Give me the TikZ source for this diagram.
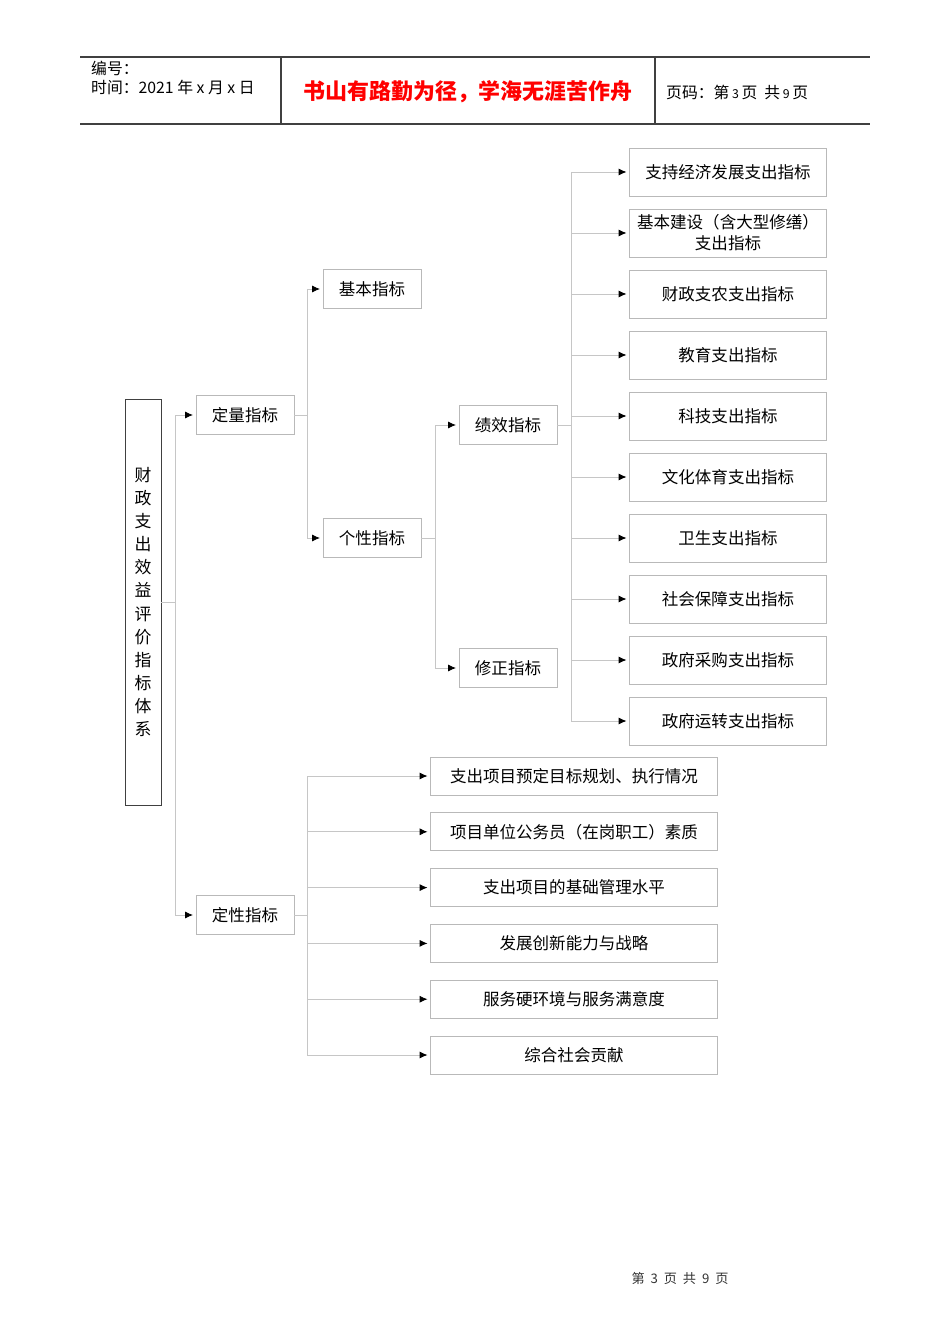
\documentclass[tikz,border=0pt]{standalone}
\usepackage{fontspec}
\setmainfont{Noto Sans CJK SC}
\usetikzlibrary{arrows.meta}

\tikzset{
  box/.style={draw=gray!55, inner sep=0pt, minimum width=1.96cm, minimum height=0.78cm,
    font=\fontsize{9.4}{12}\selectfont},
  widebox/.style={box, minimum width=3.94cm, minimum height=0.96cm, align=center},
  longbox/.style={box, minimum width=5.74cm, minimum height=0.76cm},
  link/.style={draw=gray!45, line width=0.5pt},
  arr/.style={link, -{Latex[color=black,length=4.5pt,width=4pt]}, shorten >=1.5pt},
  hdr/.style={draw=black!75, line width=0.6pt},
}

\begin{document}
\begin{tikzpicture}[x=0.02cm,y=-0.02cm]
\useasboundingbox (0,0) rectangle (950,1344);
% page header
\draw[hdr] (80,57) -- (870,57);
\draw[hdr] (80,124) -- (870,124);
\draw[hdr] (281,57) -- (281,124);
\draw[hdr] (655,57) -- (655,124);
\node[anchor=west, font=\fontsize{9}{10}\selectfont] (bh) at (85,68) {编号：};
\node[anchor=west, font=\fontsize{9}{10}\selectfont] (sj) at (85,87) {时间：2021 年 x 月 x 日};
\node[font=\fontsize{12.5}{14}\selectfont\bfseries, text=red] (motto) at (468,92) {书山有路勤为径，学海无涯苦作舟};
\node[anchor=west, font=\fontsize{9}{10}\selectfont] (ym) at (660,92) {页码：第\,{\scriptsize 3}\,页\ \ 共\,{\scriptsize 9}\,页};

% root
\node[draw=black!75, inner sep=0pt, minimum width=0.72cm, minimum height=8.12cm, align=center,
  font=\fontsize{9.6}{13.1}\selectfont] (root) at (143,602)
  {财\\政\\支\\出\\效\\益\\评\\价\\指\\标\\体\\系};

% second and third levels
\node[box] (dl) at (245,415) {定量指标};
\node[box] (dx) at (245,915) {定性指标};
\node[box] (jb) at (372,289) {基本指标};
\node[box] (gx) at (372,538) {个性指标};
\node[box] (jx) at (508,425) {绩效指标};
\node[box] (xz) at (508,668) {修正指标};

% spending indicators
\foreach \t [count=\i] in {支持经济发展支出指标,{基本建设（含大型修缮）\\支出指标},财政支农支出指标,
  教育支出指标,科技支出指标,文化体育支出指标,卫生支出指标,社会保障支出指标,
  政府采购支出指标,政府运转支出指标}
  \node[widebox] (zc\i) at (728,111+61*\i) {\t};

% qualitative indicators
\foreach \t [count=\i] in {支出项目预定目标规划、执行情况,项目单位公务员（在岗职工）素质,
  支出项目的基础管理水平,发展创新能力与战略,服务硬环境与服务满意度,综合社会贡献}
  \node[longbox] (dx\i) at (574,720.2+55.8*\i) {\t};

% connectors
\draw[link] (root.east) -- ++(14,0) coordinate (c0);
\draw[link] (c0 |- dl.west) -- (c0 |- dx.west);
\draw[arr] (c0 |- dl.west) -- (dl.west);
\draw[arr] (c0 |- dx.west) -- (dx.west);

\draw[link] (dl.east) -- ++(13,0) coordinate (c1);
\draw[link] (c1 |- jb.west) -- (c1 |- gx.west);
\draw[arr] (c1 |- jb.west) -- (jb.west);
\draw[arr] (c1 |- gx.west) -- (gx.west);

\draw[link] (gx.east) -- ++(14,0) coordinate (c2);
\draw[link] (c2 |- jx.west) -- (c2 |- xz.west);
\draw[arr] (c2 |- jx.west) -- (jx.west);
\draw[arr] (c2 |- xz.west) -- (xz.west);

\draw[link] (jx.east) -- ++(14,0) coordinate (c3);
\draw[link] (c3 |- zc1.west) -- (c3 |- zc10.west);
\foreach \i in {1,...,10}
  \draw[arr] (c3 |- zc\i.west) -- (zc\i.west);

\draw[link] (dx.east) -- ++(13,0) coordinate (c4);
\draw[link] (c4 |- dx1.west) -- (c4 |- dx6.west);
\foreach \i in {1,...,6}
  \draw[arr] (c4 |- dx\i.west) -- (dx\i.west);

% footer
\node[font=\fontsize{7.5}{8}\selectfont, text=black!80] (foot) at (680,1278) {第\ \ 3\ \ 页\ \ 共\ \ 9\ \ 页};
\end{tikzpicture}
\end{document}
